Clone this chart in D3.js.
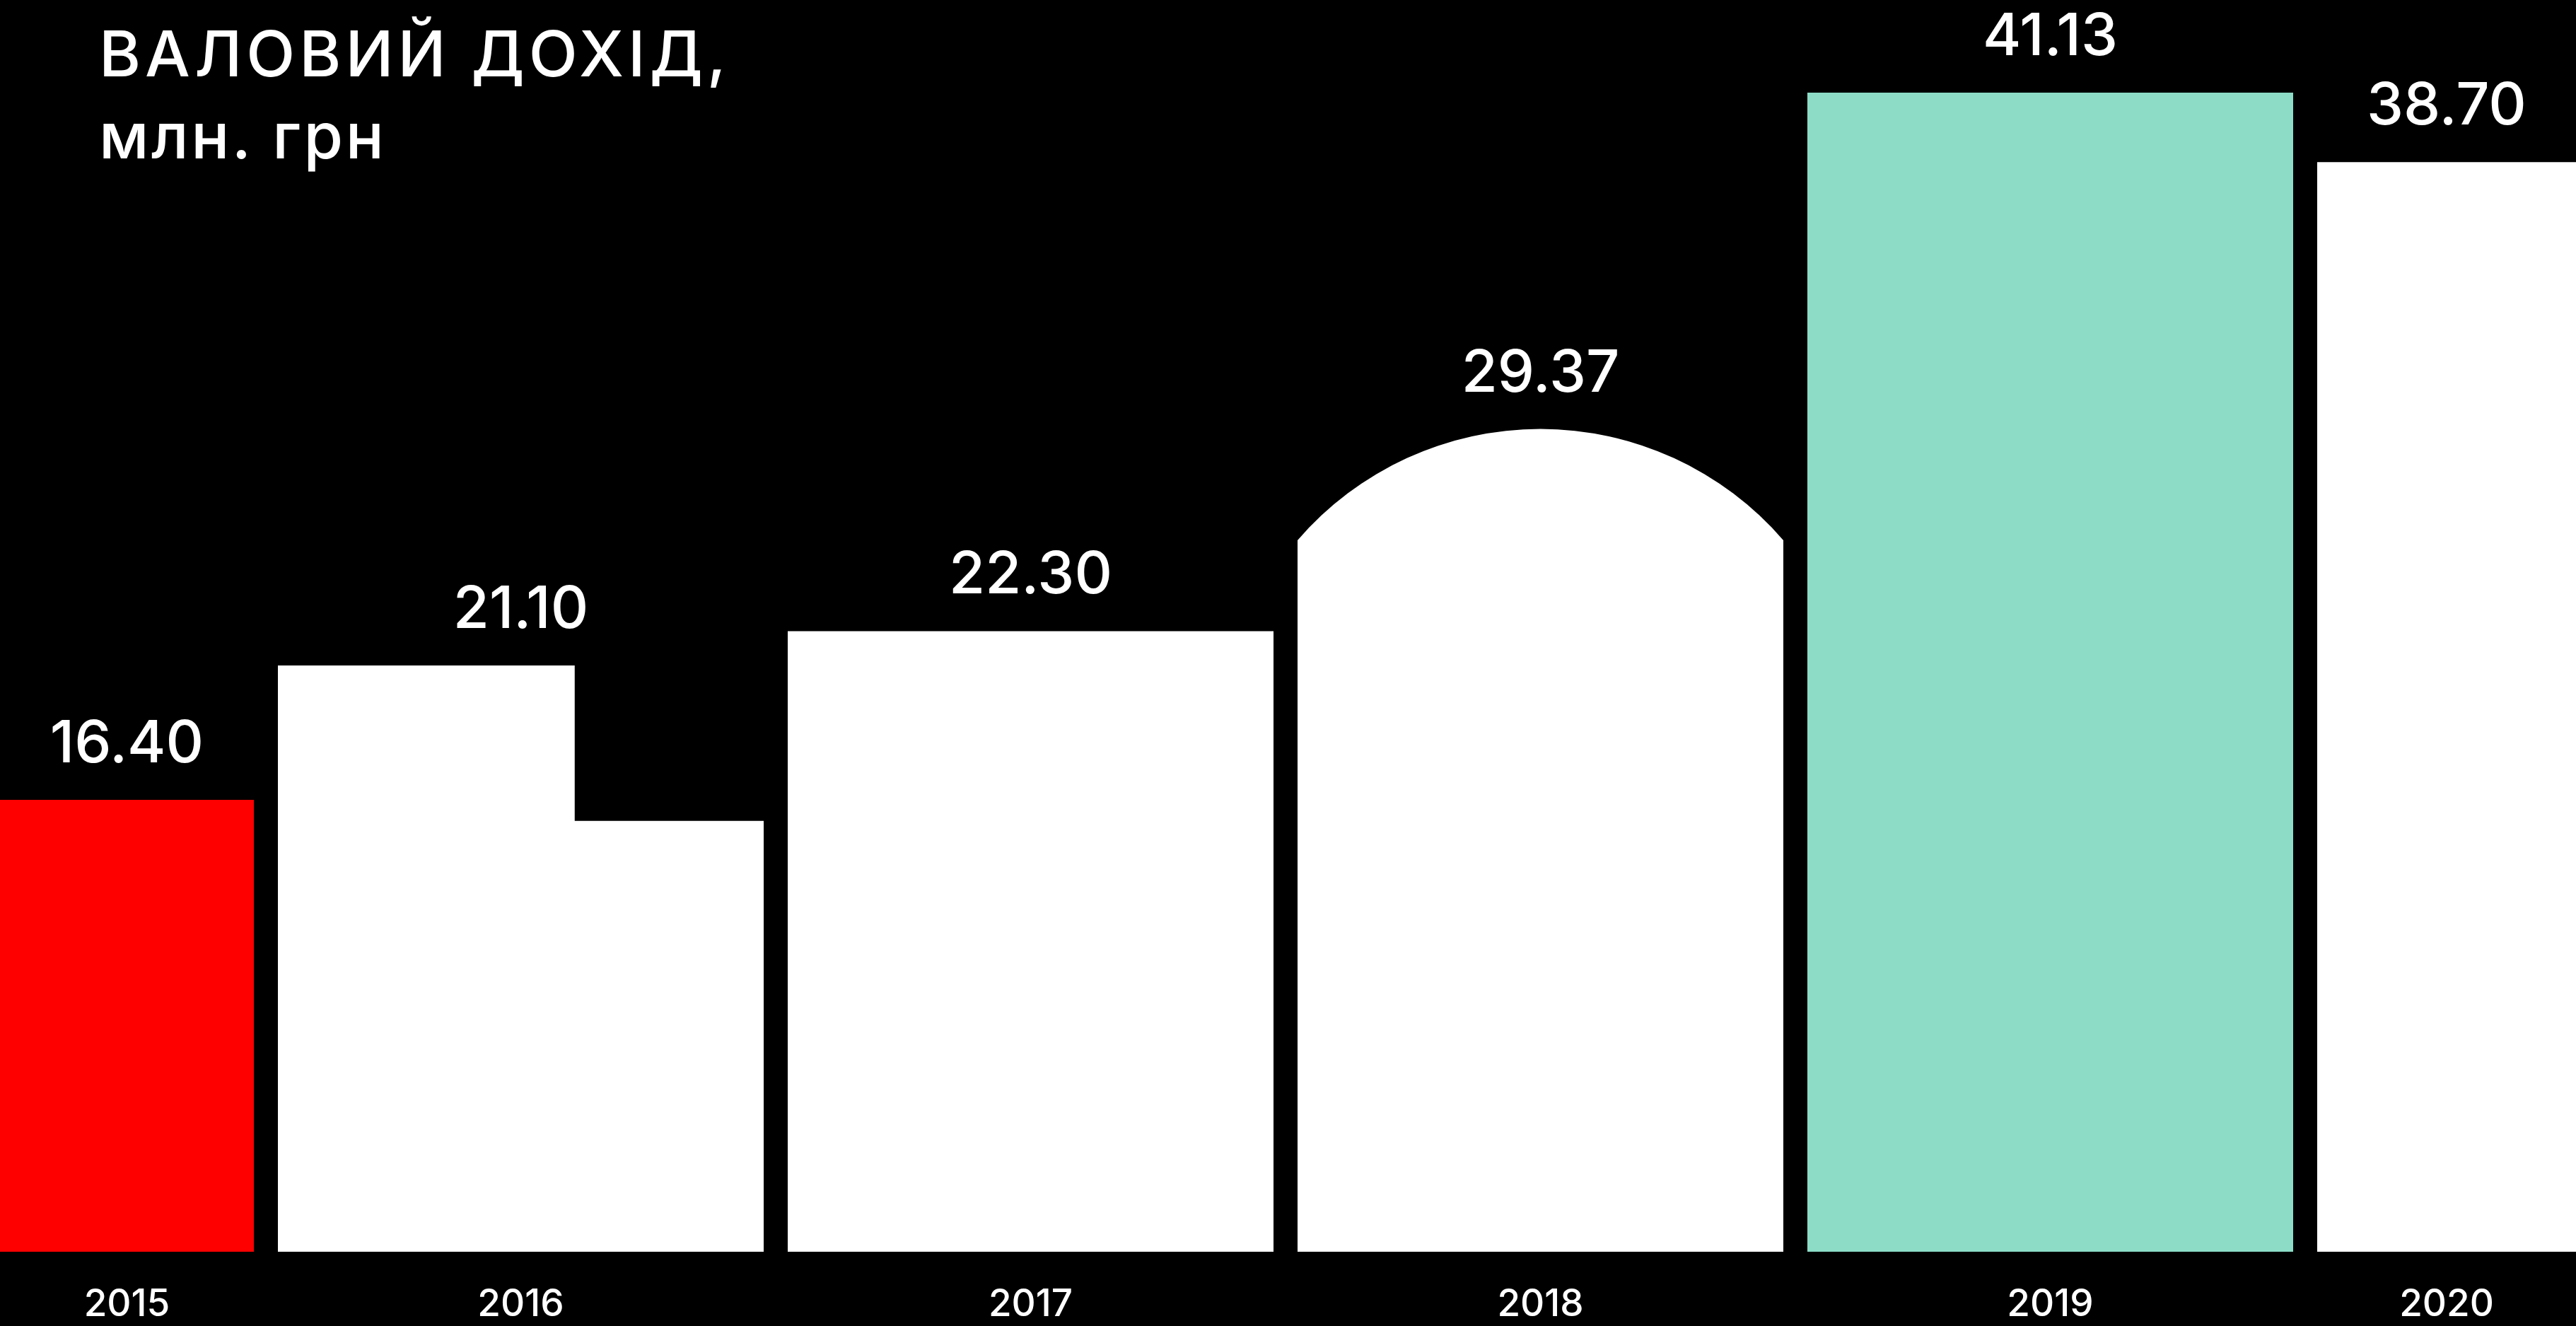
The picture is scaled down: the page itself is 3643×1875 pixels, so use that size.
<!DOCTYPE html>
<html>
<head>
<meta charset="utf-8">
<script src="https://cdn.jsdelivr.net/npm/d3@7"></script>
<style>
  html, body { margin: 0; padding: 0; background: #000; overflow: hidden; }
  svg { display: block; }
  text { font-family: Inter, "Noto Sans", sans-serif; fill: #fff; }
</style>
</head>
<body>
<svg id="chart"></svg>
<script>
// ---- data ----
const years = ["2015", "2016", "2017", "2018", "2019", "2020"];
const revenue = [16.40, 21.10, 22.30, 29.37, 41.13, 38.70];
const valueLabels = ["16.40", "21.10", "22.30", "29.37", "41.13", "38.70"];
const titleLines = ["ВАЛОВИЙ ДОХІД,", "млн. грн"];

// ---- layout ----
const W = 3643, H = 1875;
const baseY = 1770;

const svg = d3.select("#chart").attr("width", W).attr("height", H);
svg.append("rect").attr("width", W).attr("height", H).attr("fill", "#000");

const x = d3.scaleBand()
  .domain(years)
  .range([-345, -345 + 6 * 721])
  .paddingInner(34 / 721)
  .paddingOuter(17 / 721);

const y = d3.scaleLinear()
  .domain([0.6, 41.13])
  .range([baseY, 131]);

const colorFor = yr => yr === "2015" ? "#ff0000" : (yr === "2019" ? "#8cdcc6" : "#ffffff");

const data = years.map((yr, i) => ({ year: yr, value: revenue[i], label: valueLabels[i] }));

const bw = x.bandwidth();

function barPath(d) {
  const x0 = x(d.year), x1 = x0 + bw, top = y(d.value);
  if (d.year === "2016") {
    // stepped bar: right part cut lower
    const xs = x0 + bw * 0.611;
    const step = baseY - (baseY - top) * 0.735;
    return `M${x0},${baseY}V${top}H${xs}V${step}H${x1}V${baseY}Z`;
  }
  if (d.year === "2018") {
    // domed bar
    const s = bw * 0.229;
    const c = bw / 2;
    const r = (c * c + s * s) / (2 * s);
    const wall = top + s;
    return `M${x0},${baseY}V${wall}A${r},${r} 0 0 1 ${x1},${wall}V${baseY}Z`;
  }
  return `M${x0},${baseY}V${top}H${x1}V${baseY}Z`;
}

svg.append("g").selectAll("path")
  .data(data)
  .join("path")
  .attr("d", barPath)
  .attr("fill", d => colorFor(d.year));

const visCenter = yr => {
  const a = Math.max(0, x(yr)), b = Math.min(W, x(yr) + bw);
  return (a + b) / 2;
};

svg.append("g").selectAll("text")
  .data(data)
  .join("text")
  .attr("x", d => visCenter(d.year))
  .attr("y", d => y(d.value) - 53)
  .attr("text-anchor", "middle")
  .attr("font-size", 83)
  .attr("font-weight", 500)
  .text(d => d.label);

svg.append("g").selectAll("text")
  .data(data)
  .join("text")
  .attr("x", d => visCenter(d.year))
  .attr("y", 1861)
  .attr("text-anchor", "middle")
  .attr("font-size", 53)
  .attr("font-weight", 500)
  .text(d => d.year);

svg.append("g").selectAll("text")
  .data(titleLines)
  .join("text")
  .attr("x", 140)
  .attr("y", (d, i) => 108 + i * 116)
  .attr("font-size", 90)
  .attr("font-weight", 500)
  .attr("letter-spacing", (d, i) => i === 0 ? 6 : 3.5)
  .text(d => d);
</script>
</body>
</html>
